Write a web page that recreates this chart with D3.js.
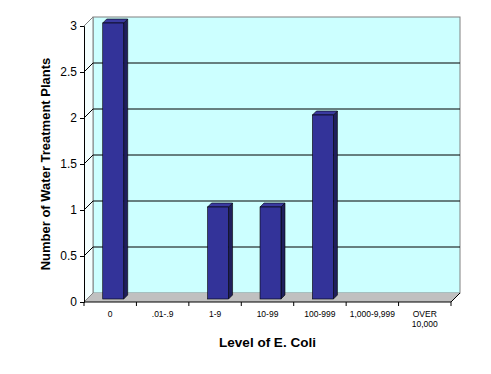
<!DOCTYPE html>
<html><head><meta charset="utf-8">
<script src="https://cdn.jsdelivr.net/npm/d3@7"></script>
<style>body{margin:0;background:#fff}svg{display:block;font-family:"Liberation Sans",Arial,sans-serif}</style>
</head><body><svg id="c" width="491" height="374"></svg>
<script>
const categories = ["0", ".01-.9", "1-9", "10-99", "100-999", "1,000-9,999", "OVER 10,000"];
const values = [3, 0, 1, 1, 2, 0, 0];
const yTicks = [0, 0.5, 1, 1.5, 2, 2.5, 3];
const yTitle = "Number of Water Treatment Plants";
const xTitle = "Level of E. Coli";

const svg = d3.select("#c");
const X0 = 84, X1 = 451, Y0 = 302, Y1 = 26, D = 9;
const x = d3.scaleBand().domain(categories).range([X0, X1]).paddingInner(0).paddingOuter(0);
const y = d3.scaleLinear().domain([0, 3]).range([Y0, Y1]);
const pts = a => a.map(p => p.join(",")).join(" ");

// back wall
svg.append("rect").attr("x", X0 + D).attr("y", y(3) - D).attr("width", X1 - X0).attr("height", y(0) - y(3))
  .attr("fill", "#CCFFFF").attr("stroke", "#808080").attr("stroke-width", 1);
// left wall
svg.append("polygon").attr("points", pts([[X0, y(0)], [X0 + D, y(0) - D], [X0 + D, y(3) - D], [X0, y(3)]]))
  .attr("fill", "#F4FFFF").attr("stroke", "none");
svg.append("line").attr("x1", X0 + D).attr("x2", X0 + D).attr("y1", y(3) - D).attr("y2", y(0) - D).attr("stroke", "#808080");
svg.append("line").attr("x1", X0).attr("x2", X0 + D).attr("y1", y(3)).attr("y2", y(3) - D).attr("stroke", "#808080");
// floor
svg.append("polygon").attr("points", pts([[X0, Y0], [X0 + D, Y0 - D], [X1 + D, Y0 - D], [X1, Y0]]))
  .attr("fill", "#C0C0C0").attr("stroke", "none");
svg.append("line").attr("x1", X0).attr("x2", X0 + D).attr("y1", Y0).attr("y2", Y0 - D).attr("stroke", "#808080");
svg.append("line").attr("x1", X1).attr("x2", X1 + D).attr("y1", Y0).attr("y2", Y0 - D).attr("stroke", "#000");

// gridlines
const grid = yTicks.filter(v => v > 0 && v < 3);
svg.selectAll(".g").data(grid).enter().append("polyline")
  .attr("points", v => pts([[X0, y(v)], [X0 + D, y(v) - D], [X1 + D, y(v) - D]]))
  .attr("fill", "none").attr("stroke", "#000").attr("stroke-width", 1);

// bars
const bw = x.bandwidth() * 0.4, f = 3, b = 7;
const bars = svg.selectAll(".bar").data(categories.map((c, i) => ({c, v: values[i]})).filter(d => d.v > 0))
  .enter().append("g");
bars.each(function(d) {
  const g = d3.select(this);
  const l = x(d.c) + (x.bandwidth() - bw) / 2 + f, r = l + bw;
  const t = y(d.v) - f, bt = y(0) - f;
  const k = b - f;
  g.append("polygon").attr("points", pts([[r, bt], [r + k, bt - k], [r + k, t - k], [r, t]]))
    .attr("fill", "#1F1F5C").attr("stroke", "#000").attr("stroke-width", 0.6);
  g.append("polygon").attr("points", pts([[l, t], [l + k, t - k], [r + k, t - k], [r, t]]))
    .attr("fill", "#3A3AA0").attr("stroke", "#000").attr("stroke-width", 0.6);
  g.append("rect").attr("x", l).attr("y", t).attr("width", bw).attr("height", bt - t)
    .attr("fill", "#333399").attr("stroke", "#000").attr("stroke-width", 0.6);
});

// y axis
const ya = svg.append("g").attr("transform", `translate(${X0},0)`)
  .call(d3.axisLeft(y).tickValues(yTicks).tickSize(4).tickPadding(3).tickFormat(d3.format("")));
ya.select(".domain").attr("stroke", "#000");
ya.selectAll("text").attr("font-size", 12).attr("font-family", "Liberation Sans, Arial").attr("fill", "#000");

// x axis
const xa = svg.append("g").attr("transform", `translate(0,${Y0})`);
xa.append("line").attr("x1", X0).attr("x2", X1).attr("stroke", "#000");
const edges = categories.map(c => x(c)).concat([X1]);
xa.selectAll(".t").data(edges).enter().append("line")
  .attr("x1", d => d).attr("x2", d => d).attr("y1", 0).attr("y2", 4).attr("stroke", "#000");
xa.selectAll(".l").data(categories).enter().append("text")
  .attr("x", c => x(c) + x.bandwidth() / 2).attr("y", 15)
  .attr("text-anchor", "middle").attr("font-size", 8.5).attr("fill", "#000")
  .each(function(c) {
    const parts = c === "OVER 10,000" ? ["OVER", "10,000"] : [c];
    const t = d3.select(this);
    parts.forEach((p, i) => t.append("tspan").attr("x", x(c) + x.bandwidth() / 2).attr("dy", i ? 10 : 0).text(p));
  });

// titles
svg.append("text").attr("x", (X0 + X1) / 2).attr("y", 347).attr("text-anchor", "middle")
  .attr("font-size", 13.5).attr("font-weight", "bold").text(xTitle);
svg.append("text").attr("transform", `translate(50,${(Y0 + Y1) / 2}) rotate(-90)`).attr("text-anchor", "middle")
  .attr("font-size", 13).attr("font-weight", "bold").text(yTitle);
</script></body></html>
